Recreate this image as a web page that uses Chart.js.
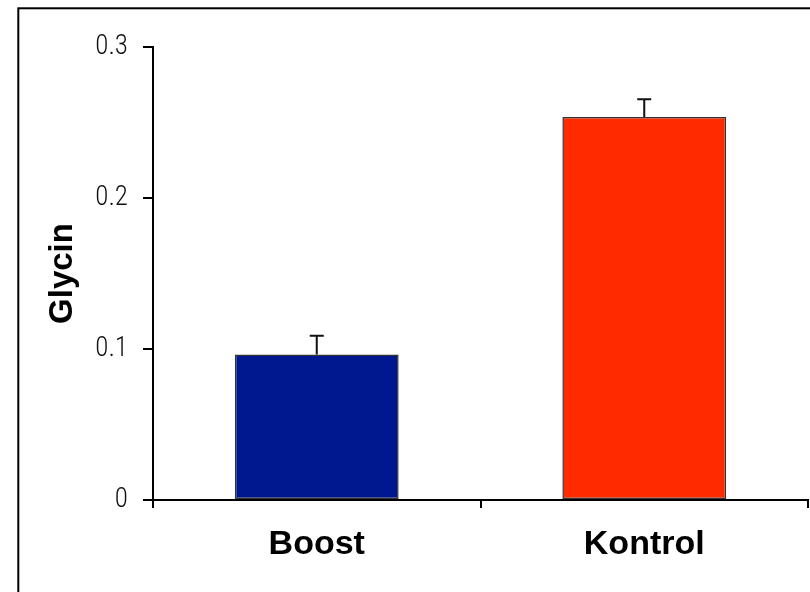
<!DOCTYPE html>
<html>
<head>
<meta charset="utf-8">
<script src="https://cdn.jsdelivr.net/npm/chart.js@4"></script>
<style>
  html, body { margin: 0; padding: 0; background: #fff; }
  #wrap { width: 810px; height: 592px; }
</style>
</head>
<body>
<div id="wrap"><canvas id="myChart" width="810" height="592"></canvas></div>
<script>
const categories = ['Boost', 'Kontrol'];
const values = [0.0964, 0.2536];
const errors = [0.0124, 0.0118];
const barColors = ['#00188f', '#ff2a00'];
const yTicks = ['0', '0.1', '0.2', '0.3'];

// outer frame like the original picture
const framePlugin = {
  id: 'frame',
  beforeDraw(chart) {
    const c = chart.ctx;
    c.save();
    c.fillStyle = '#fff';
    c.fillRect(0, 0, chart.width, chart.height);
    c.strokeStyle = '#000';
    c.lineWidth = 2;
    c.strokeRect(18.3, 8.3, 1000, 1000);
    c.restore();
  }
};

// error bars (upper side only)
const errorBars = {
  id: 'errorBars',
  afterDatasetsDraw(chart) {
    const c = chart.ctx;
    const meta = chart.getDatasetMeta(0);
    const y = chart.scales.y;
    c.save();
    c.strokeStyle = '#111';
    c.lineWidth = 2;
    meta.data.forEach((bar, i) => {
      const top = y.getPixelForValue(values[i] + errors[i]);
      const base = y.getPixelForValue(values[i]);
      c.beginPath();
      c.moveTo(bar.x, base);
      c.lineTo(bar.x, top);
      c.moveTo(bar.x - 7, top);
      c.lineTo(bar.x + 7, top);
      c.stroke();
    });
    c.restore();
  }
};

new Chart(document.getElementById('myChart'), {
  type: 'bar',
  data: {
    labels: categories,
    datasets: [{
      data: values,
      backgroundColor: barColors,
      borderColor: '#333',
      borderWidth: 1.5,
      borderSkipped: false,
      categoryPercentage: 1,
      barPercentage: 0.5
    }]
  },
  options: {
    responsive: false,
    animation: false,
    devicePixelRatio: 1,
    layout: { padding: { left: 0, top: 47, right: 2, bottom: 0 } },
    plugins: { legend: { display: false }, tooltip: { enabled: false } },
    scales: {
      x: {
        afterFit(s) { s.height = 92; },
        grid: { drawOnChartArea: false, color: '#000', lineWidth: 2, tickLength: 8 },
        border: { color: '#000', width: 2 },
        ticks: {
          color: '#000',
          padding: 16,
          font: { family: 'Liberation Sans, Arial, sans-serif', size: 34, weight: 'bold' }
        }
      },
      y: {
        min: 0,
        max: 0.3,
        afterFit(s) { s.width = 153; },
        grid: { drawOnChartArea: false, color: '#000', lineWidth: 2, tickLength: 10 },
        border: { color: '#000', width: 2 },
        ticks: {
          stepSize: 0.1,
          color: '#111',
          padding: 15,
          font: { family: '"Liberation Sans Narrow", "Roboto Condensed", Roboto, sans-serif', size: 27, weight: 300 },
          callback: (v, i) => yTicks[i]
        },
        title: {
          display: true,
          text: 'Glycin',
          color: '#000',
          padding: { top: 43, bottom: 0 },
          font: { family: 'Liberation Sans, Arial, sans-serif', size: 33, weight: 'bold' }
        }
      }
    }
  },
  plugins: [framePlugin, errorBars]
});
</script>
</body>
</html>
